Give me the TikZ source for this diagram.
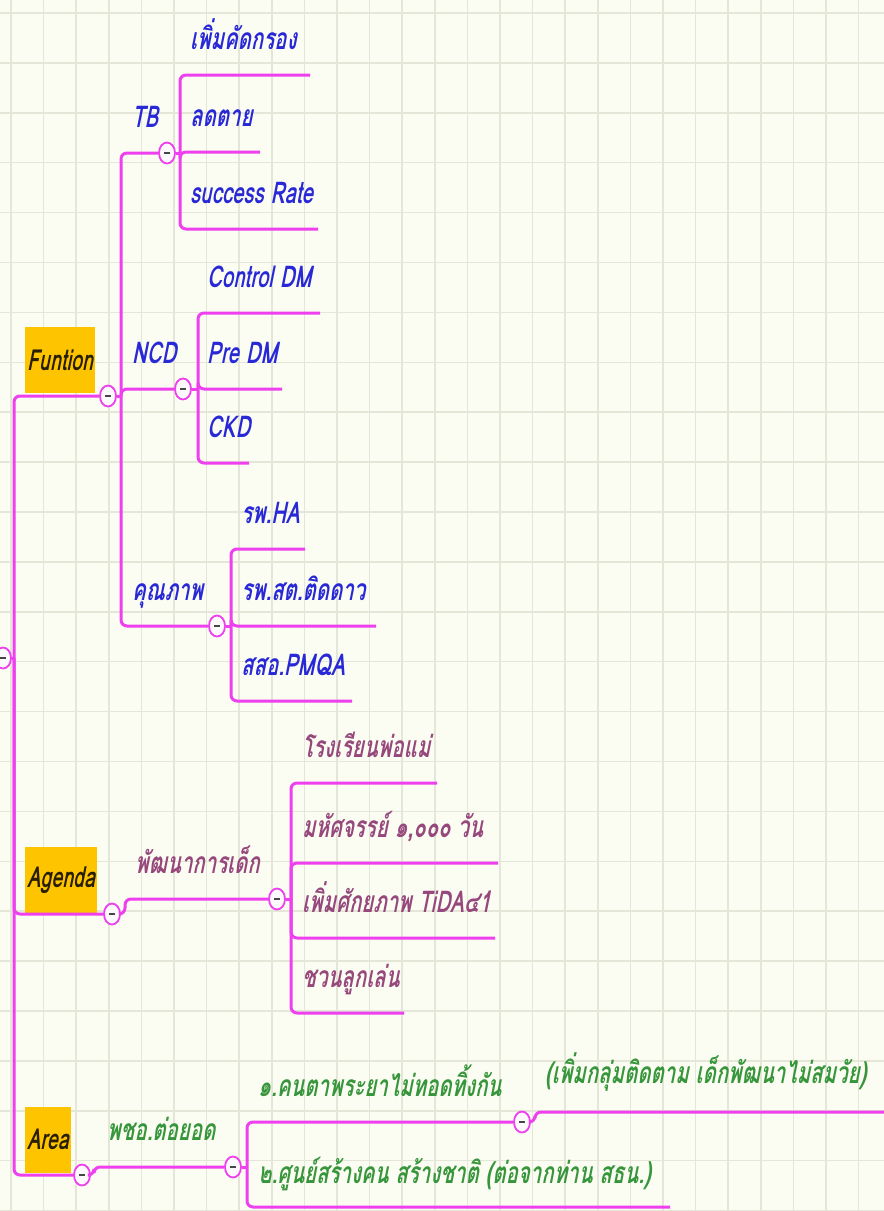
\documentclass[tikz,border=0pt]{standalone}
\usepackage{fontspec}
\usetikzlibrary{shapes.geometric}

\newfontfamily\thaifont[Script=Thai, FakeStretch=0.68, FakeSlant=0.2]{Loma}

\definecolor{paper}{RGB}{252,253,242}
\definecolor{gridgrey}{RGB}{228,230,216}
\definecolor{linkpink}{RGB}{238,64,238}
\definecolor{knobfill}{RGB}{253,250,253}
\definecolor{knobdash}{RGB}{70,70,70}
\definecolor{boxyellow}{RGB}{255,196,0}
\definecolor{boxtext}{RGB}{40,30,0}
\definecolor{fnblue}{RGB}{40,40,215}
\definecolor{agmauve}{RGB}{150,72,125}
\definecolor{argreen}{RGB}{55,150,60}

\tikzset{
  grid line/.style={draw=gridgrey, line width=1.5pt},
  link/.style={draw=linkpink, line width=3pt, rounded corners=6pt},
  knob/.style={ellipse, draw=linkpink, fill=knobfill, line width=1.8pt,
    minimum width=16pt, minimum height=21pt, inner sep=0pt,
    path picture={\draw[knobdash, line width=2.2pt]
      ([xshift=-3pt]path picture bounding box.center) --
      ([xshift=3pt]path picture bounding box.center);}},
  topic/.style={fill=boxyellow, text=boxtext, inner xsep=2pt, inner ysep=0pt,
    minimum height=66pt, anchor=south west, font=\thaifont\bfseries\fontsize{29}{32}\selectfont},
  leaf/.style={anchor=base west, inner sep=0pt, font=\thaifont\bfseries\fontsize{30}{33}\selectfont},
  fn text/.style={leaf, text=fnblue},
  ag text/.style={leaf, text=agmauve},
  ar text/.style={leaf, text=argreen}
}

\begin{document}
\begin{tikzpicture}[x=1pt,y=-1pt]
					% Draw paper and grid
					\fill[paper] (0,0) rectangle (884,1211);
					\useasboundingbox (0,0) rectangle (884,1211);
					\foreach \x in {0,...,26}
					\draw[grid line] (11+32.6*\x,0) -- (11+32.6*\x,1211);
					\foreach \y in {0,...,24}
					\draw[grid line] (0,13+49.9*\y) -- (884,13+49.9*\y);
					
					% Draw root knob and spine
					\node[knob] (root) at (3,658) {};
					\coordinate (spine) at (14,658);
					\draw[link] (root) -- (spine);
					
					% Draw Funtion topic
					\node[topic] (funtion) at (25,393) {Funtion};
					\node[knob] (fknob) at (108,396) {};
					\draw[link] (spine) |- (fknob);
					\coordinate (fjoin) at (121,396);
					\draw[link] (fknob) -- (fjoin);
					
					% Draw TB, NCD and quality branches
					\node[knob] (tbknob) at (167,153) {};
					\node[knob] (ncdknob) at (183,389) {};
					\node[knob] (qknob) at (217,626) {};
					\draw[link] (fjoin) |- (tbknob);
					\draw[link] (fjoin) |- (ncdknob);
					\draw[link] (fjoin) |- (qknob);
					\node[fn text] (tb) at (132,127) {TB};
					\node[fn text] (ncd) at (132,363) {NCD};
					\node[fn text] (qual) at (132,600) {คุณภาพ};
					
					% Draw TB leaves
					\coordinate (tbjoin) at (180,153);
					\draw[link] (tbknob) -- (tbjoin);
					\foreach \n/\y/\e/\t in {tba/75/310/เพิ่มคัดกรอง, tbb/152/260/ลดตาย, tbc/229/318/success Rate}{
						\coordinate (\n end) at (\e,\y);
						\draw[link] (tbjoin) |- (\n end);
						\node[fn text] (\n) at (190,\y-26) {\t};
					}
					
					% Draw NCD leaves
					\coordinate (ncdjoin) at (198,389);
					\draw[link] (ncdknob) -- (ncdjoin);
					\foreach \n/\y/\e/\t in {ncda/313/320/Control DM, ncdb/389/282/Pre DM, ncdc/463/249/CKD}{
						\coordinate (\n end) at (\e,\y);
						\draw[link] (ncdjoin) |- (\n end);
						\node[fn text] (\n) at (207,\y-26) {\t};
					}
					
					% Draw quality leaves
					\coordinate (qjoin) at (231,626);
					\draw[link] (qknob) -- (qjoin);
					\foreach \n/\y/\e/\t in {qa/549/305/รพ.HA, qb/626/376/รพ.สต.ติดดาว, qc/701/352/สสอ.PMQA}{
						\coordinate (\n end) at (\e,\y);
						\draw[link] (qjoin) |- (\n end);
						\node[fn text] (\n) at (241,\y-26) {\t};
					}
					
					% Draw Agenda topic
					\node[topic] (agenda) at (25,913) {Agenda};
					\node[knob] (aknob) at (112,914) {};
					\draw[link] (spine) |- (aknob);
					\node[knob] (devknob) at (277,899) {};
					\coordinate (ajoin) at (125,914);
					\draw[link] (aknob) -- (ajoin) |- (devknob);
					\node[ag text] (dev) at (135,873) {พัฒนาการเด็ก};
					
					% Draw child development leaves
					\coordinate (devjoin) at (291,899);
					\draw[link] (devknob) -- (devjoin);
					\foreach \n/\y/\e/\t in {aga/783/437/โรงเรียนพ่อแม่, {agb/863/498/มหัศจรรย์ ๑,๐๐๐ วัน}, agc/938/495/เพิ่มศักยภาพ TiDA๔1, agd/1013/404/ชวนลูกเล่น}{
						\coordinate (\n end) at (\e,\y);
						\draw[link] (devjoin) |- (\n end);
						\node[ag text] (\n) at (302,\y-26) {\t};
					}
					
					% Draw Area topic
					\node[topic] (area) at (25,1173) {Area};
					\node[knob] (arknob) at (82,1175) {};
					\draw[link] (spine) |- (arknob);
					\node[knob] (pchknob) at (233,1167) {};
					\coordinate (arjoin) at (94,1175);
					\draw[link] (arknob) -- (arjoin) |- (pchknob);
					\node[ar text] (pch) at (107,1140) {พชอ.ต่อยอด};
					
					% Draw Area leaves
					\coordinate (pchjoin) at (247,1167);
					\draw[link] (pchknob) -- (pchjoin);
					\node[knob] (oneknob) at (522,1122) {};
					\draw[link] (pchjoin) |- (oneknob);
					\node[ar text] (one) at (258,1096) {๑.คนตาพระยาไม่ทอดทิ้งกัน};
					\coordinate (two end) at (670,1207);
					\draw[link] (pchjoin) |- (two end);
					\node[ar text] (two) at (258,1183) {๒.ศูนย์สร้างคน สร้างชาติ (ต่อจากท่าน สธน.)};
					\coordinate (onejoin) at (535,1122);
					\coordinate (more end) at (890,1112);
					\draw[link] (oneknob) -- (onejoin) |- (more end);
					\node[ar text] (more) at (545,1083) {(เพิ่มกลุ่มติดตาม เด็กพัฒนาไม่สมวัย)};
\end{tikzpicture}
\end{document}
